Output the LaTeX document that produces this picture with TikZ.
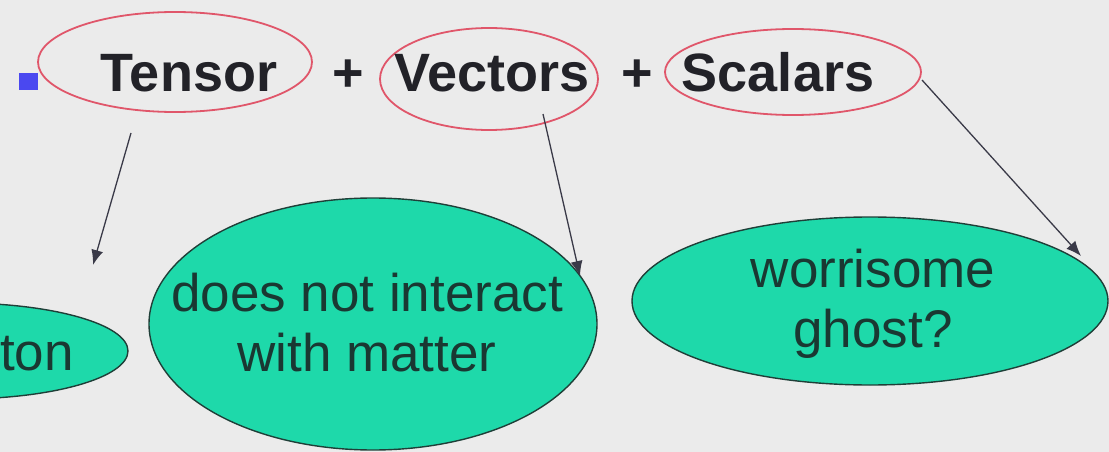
\documentclass[tikz,border=0pt]{standalone}
\usepackage{fontspec}
\setmainfont{Liberation Sans}
\usetikzlibrary{shapes.geometric,arrows.meta}
\definecolor{bgc}{HTML}{EBEBEB}
\definecolor{ringred}{HTML}{E0566A}
\definecolor{blobgreen}{HTML}{1ED9AA}
\definecolor{blobline}{HTML}{1F3F38}
\definecolor{wordc}{HTML}{222228}
\definecolor{blobtext}{HTML}{1A3832}
\definecolor{arrc}{HTML}{3A3A48}
\definecolor{bulletc}{HTML}{4A48F0}
\begin{document}
\begin{tikzpicture}[x=1pt,y=-1pt,
  word/.style={inner sep=0pt,anchor=base,text=wordc,font=\bfseries\fontsize{54}{60}\selectfont},
  ring/.style={ellipse,draw=ringred,line width=1.8pt,inner sep=0pt},
  blob/.style={ellipse,draw=blobline,fill=blobgreen,line width=1.4pt,inner sep=0pt},
  blobtxt/.style={inner sep=0pt,align=center,text=blobtext,font=\fontsize{53}{60}\selectfont},
  pointer/.style={draw=arrc,line width=1.3pt,-{Latex[length=15pt,width=12pt]}}]
\fill[bgc] (0,0) rectangle (1109,452);
\useasboundingbox (0,0) rectangle (1109,452);
% bullet
\node[fill=bulletc,inner sep=0pt,minimum width=19pt,minimum height=17pt] (bullet) at (28,82) {};
% red rings
\node[ring,minimum width=274pt,minimum height=100pt] (rT) at (175,62) {};
\node[ring,minimum width=218pt,minimum height=102pt] (rV) at (489,79) {};
\node[ring,minimum width=256pt,minimum height=86pt] (rS) at (793,72) {};
% words
\node[word] (tensor) at (189,92) {Tensor};
\node[word] (plus1) at (348,92) {+};
\node[word] (vectors) at (492,92) {Vectors};
\node[word] (plus2) at (637,92) {+};
\node[word] (scalars) at (778,92) {Scalars};
% green blobs
\node[blob,minimum width=336pt,minimum height=96pt] (bL) at (-40,351) {};
\node[blob,minimum width=448pt,minimum height=252pt] (bM) at (373,324) {};
\node[blob,minimum width=476pt,minimum height=168pt] (bR) at (870,301) {};
\node[blobtxt,anchor=base west] (tL) at (0,370) {ton};
\node[blobtxt] (tM) at (367,323) {does not interact\\with matter};
\node[blobtxt] (tR) at (873,304) {worrisome\\ghost?};
% arrows
\coordinate (aTs) at (131,133);
\coordinate (aTe) at (93,265);
\coordinate (aVs) at (543,114);
\coordinate (aVe) at (580,276);
\coordinate (aSs) at (922,80);
\coordinate (aSe) at (1081,256);
\draw[pointer] (aTs) -- (aTe);
\draw[pointer] (aVs) -- (aVe);
\draw[pointer] (aSs) -- (aSe);
\end{tikzpicture}
\end{document}
